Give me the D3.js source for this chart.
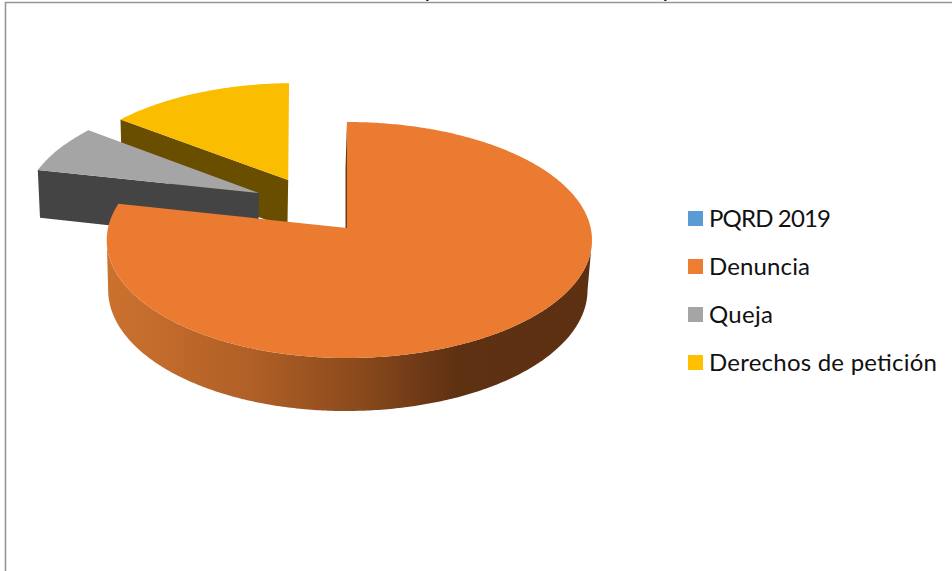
<!DOCTYPE html>
<html>
<head>
<meta charset="utf-8">
<script src="https://cdn.jsdelivr.net/npm/d3@7/dist/d3.min.js"></script>
<style>
  html, body { margin: 0; padding: 0; background: #fff; overflow: hidden; }
  svg { display: block; }
  text { font-family: Lato, "Open Sans", sans-serif; }
</style>
</head>
<body>
<svg id="chart" width="952" height="571"></svg>
<script>
// Complaint types received in 2019, share of total.
const categories = ["PQRD 2019", "Denuncia", "Queja", "Derechos de petición"];
const values = [0, 78.4, 6.9, 14.7];
const topColors = ["#5b9bd5", "#ea7b30", "#a5a5a5", "#fbbd00"];
const sideColors = ["#3a5f82", "url(#sideShade)", "#444444", "#6a4e00"];
const legendColors = ["#5b9bd5", "#ed7d31", "#a5a5a5", "#ffc000"];
const titleFragments = ["p", "p"];

const svg = d3.select("#chart");

// Exploded wedges: offset on the pie plane in units of the radius,
// radius factor, and the sliver trimmed off the closing edge (degrees).
const explode = {
  "Queja": { r: 0.49, dir: -50.9, radius: 1.005, trim: 0 },
  "Derechos de petición": { r: 0.5, dir: -30.9, radius: 0.99, trim: 1.2 }
};

// Perspective view of the pie plane: u runs right, v runs toward the viewer.
const view = { x0: 347, rLeft: 239, rRight: 243.7, y0: 228, a: 93.6, c: -0.1017,
               depth: 49.5, depthSlope: 3.5, shrink: 0.012, drift: 1.5 };

function project(u, v, z) {
  const w = 1 + view.c * v;
  let x = view.x0 + (u < 0 ? view.rLeft : view.rRight) * u / w;
  let y = (view.a * v + view.y0) / w;
  if (z) {
    y += view.depth + view.depthSlope * v;
    x = view.x0 + (x - view.x0) * (1 - view.shrink) - view.drift;
  }
  return [x, y];
}

const pie = d3.pie().sort(null).value(d => d).startAngle(0).endAngle(2 * Math.PI);
const arcs = pie(values);
const colorTop = d3.scaleOrdinal().domain(categories).range(topColors);
const colorSide = d3.scaleOrdinal().domain(categories).range(sideColors);
const path = d3.line();

// Shading along the rim of the large wedge.
const grad = svg.append("defs").append("linearGradient")
  .attr("id", "sideShade").attr("gradientUnits", "userSpaceOnUse")
  .attr("x1", 107).attr("x2", 592).attr("y1", 0).attr("y2", 0);
grad.append("stop").attr("offset", 0).attr("stop-color", "#cc722f");
grad.append("stop").attr("offset", 0.3).attr("stop-color", "#b05f26");
grad.append("stop").attr("offset", 0.52).attr("stop-color", "#8a4a1c");
grad.append("stop").attr("offset", 0.72).attr("stop-color", "#5f3113");
grad.append("stop").attr("offset", 1).attr("stop-color", "#5d3012");

function offsetOf(name) {
  const e = explode[name];
  if (!e) return [0, 0];
  const t = e.dir * Math.PI / 180;
  return [e.r * Math.sin(t), -e.r * Math.cos(t)];
}

function rim(d, name, off, z) {
  const e = explode[name] || { radius: 1, trim: 0 };
  const end = d.endAngle - e.trim * Math.PI / 180;
  const n = Math.max(2, Math.ceil((end - d.startAngle) * 90));
  return d3.range(n + 1).map(i => {
    const t = d.startAngle + (end - d.startAngle) * i / n;
    return project(off[0] + e.radius * Math.sin(t), off[1] - e.radius * Math.cos(t), z);
  });
}

// Back-to-front: the exploded wedges first, the large wedge on top of them.
const drawOrder = ["Derechos de petición", "Queja", "Denuncia"];

drawOrder.forEach(name => {
  const d = arcs[categories.indexOf(name)];
  const off = offsetOf(name);
  const top = rim(d, name, off, 0);
  const bottom = rim(d, name, off, 1);
  const hubTop = project(off[0], off[1], 0);
  const hubBottom = project(off[0], off[1], 1);
  const g = svg.append("g").attr("class", "slice");
  const side = colorSide(name);

  // Only the part of the rim between its rightmost and leftmost points faces the viewer.
  const iRight = d3.greatestIndex(top, p => p[0]);
  const iLeft = d3.leastIndex(top, p => p[0]);
  if (iRight < iLeft) {
    const front = top.slice(iRight, iLeft + 1);
    const under = bottom.slice(iRight, iLeft + 1).reverse();
    g.append("path").attr("fill", side).attr("d", path(front.concat(under)) + "Z");
  }

  // Cut face along the opening edge of the wedge.
  g.append("path").attr("fill", name === "Denuncia" ? "#6b3a17" : side)
    .attr("d", path([hubTop, top[0], bottom[0], hubBottom]) + "Z");

  g.append("path").attr("fill", colorTop(name))
    .attr("d", path([hubTop].concat(top)) + "Z");
});

// Chart frame, top and left edges.
svg.append("path")
  .attr("d", d3.line()([[5.5, 571], [5.5, 2.5], [952, 2.5]]))
  .attr("fill", "none").attr("stroke", "#969696").attr("stroke-width", 1.6);

// Descenders of the title line, which sits above the top of the page.
const titleX = d3.scalePoint().domain([0, 1]).range([424.4, 662.4]);
svg.selectAll("text.title").data(titleFragments).join("text")
  .attr("class", "title")
  .attr("x", (d, i) => titleX(i))
  .attr("y", -3)
  .attr("font-size", 24)
  .attr("fill", "#111")
  .text(d => d);

// Legend.
const legendWidths = [122, 101, 64, 228];
const legendY = d3.scalePoint().domain(categories).range([211, 355]);
const legend = svg.selectAll("g.legend").data(categories).join("g")
  .attr("class", "legend")
  .attr("transform", d => `translate(688,${legendY(d)})`);
legend.append("rect")
  .attr("width", 15).attr("height", 15)
  .attr("fill", (d, i) => legendColors[i]);
legend.append("text")
  .attr("x", 21).attr("y", 15.5)
  .attr("font-size", 24).attr("fill", "#111")
  .attr("textLength", (d, i) => legendWidths[i])
  .attr("lengthAdjust", "spacing")
  .text(d => d);
</script>
</body>
</html>
